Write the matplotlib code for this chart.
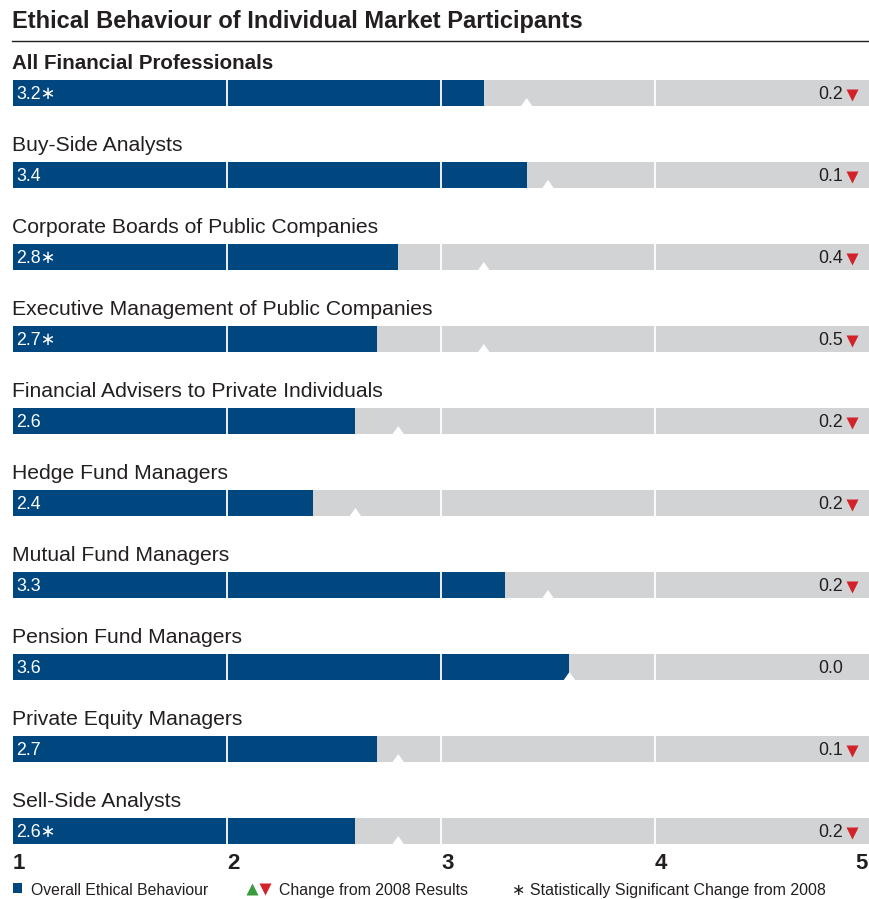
import matplotlib.pyplot as plt
from matplotlib.patches import Polygon

# dados do gráfico
groups = ['All Financial Professionals', 'Buy-Side Analysts',
          'Corporate Boards of Public Companies',
          'Executive Management of Public Companies',
          'Financial Advisers to Private Individuals', 'Hedge Fund Managers',
          'Mutual Fund Managers', 'Pension Fund Managers',
          'Private Equity Managers', 'Sell-Side Analysts']
scores = [3.2, 3.4, 2.8, 2.7, 2.6, 2.4, 3.3, 3.6, 2.7, 2.6]
changes = [-0.2, -0.1, -0.4, -0.5, -0.2, -0.2, -0.2, 0.0, -0.1, -0.2]
significant = [True, False, True, True, False, False, False, False, False, True]
ticks = [1, 2, 3, 4, 5]

BLUE = '#00467F'
GRAY = '#D1D3D4'
RED = '#D2232A'
GREEN = '#3A9B3A'
TXT = '#231F20'

W, H = 869, 899
PX = 214.0  # pixels por unidade da escala

fig = plt.figure(figsize=(W / 100, H / 100), dpi=100)
ax = fig.add_axes([0, 0, 1, 1])
ax.set_xlim(1 - 13 / PX, 5)
ax.set_ylim(H, 0)
ax.axis('off')

sans = ['Liberation Sans', 'DejaVu Sans']
narrow = ['Liberation Sans Narrow', 'Liberation Sans', 'DejaVu Sans']

# título
ax.text(1 - 1 / PX, 28, 'Ethical Behaviour of Individual Market Participants',
        fontsize=17, fontweight='bold', color=TXT, family=sans)
ax.plot([1 - 1 / PX, 5], [41, 41], color=TXT, lw=1.0)

row_top = 80
row_step = 82
bar_h = 26
for i, (name, val, ch, sig) in enumerate(zip(groups, scores, changes, significant)):
    top = row_top + i * row_step
    bot = top + bar_h
    ax.text(1 - 1 / PX, top - 11, name, fontsize=14.8 if i == 0 else 15.2,
            color=TXT, family=sans, fontweight='bold' if i == 0 else 'normal')
    ax.barh(top + bar_h / 2, 4, left=1, height=bar_h, color=GRAY, lw=0)
    ax.barh(top + bar_h / 2, val - 1, left=1, height=bar_h, color=BLUE, lw=0)
    for g in ticks[1:-1]:
        ax.plot([g, g], [top, bot], color='white', lw=1.3)
    # marca do resultado de 2008
    prev = val - ch
    hw = 6 / PX
    ax.add_patch(Polygon([[prev - hw, bot + 0.5], [prev + hw, bot + 0.5], [prev, bot - 8]],
                         closed=True, facecolor='white', edgecolor='none'))
    lab = f'{val:.1f}' + ('\u2217' if sig else '')
    ax.text(1 + 3 / PX, top + 19, lab, fontsize=12.8, color='white', family=sans)
    if ch < 0:
        ax.text(1 + 830 / PX, top + 19, f'{abs(ch):.1f}', fontsize=12.8, color=TXT,
                family=sans, ha='right')
        ax.plot(1 + 839 / PX, top + 15, marker='v', color=RED, ms=9, mec='none')
    elif ch > 0:
        ax.text(1 + 830 / PX, top + 19, f'{ch:.1f}', fontsize=12.8, color=TXT,
                family=sans, ha='right')
        ax.plot(1 + 839 / PX, top + 15, marker='^', color=GREEN, ms=9, mec='none')
    else:
        ax.text(1 + 830 / PX, top + 19, f'{ch:.1f}', fontsize=12.8, color=TXT,
                family=sans, ha='right')

# rótulos do eixo
for t in ticks:
    ax.text(t if t < 5 else t - 1 / PX, 869, str(t), fontsize=16, fontweight='bold',
            color=TXT, family=narrow, ha='left' if t < 5 else 'right')

# legenda
ly = 895
ax.add_patch(Polygon([[1, ly - 12], [1 + 9 / PX, ly - 12], [1 + 9 / PX, ly - 2], [1, ly - 2]],
                     closed=True, facecolor=BLUE, edgecolor='none'))
ax.text(1 + 18 / PX, ly, 'Overall Ethical Behaviour', fontsize=11.3, color=TXT, family=narrow)
ax.plot(1 + 239 / PX, ly - 6, marker='^', color=GREEN, ms=8.5, mec='none')
ax.plot(1 + 252 / PX, ly - 6, marker='v', color=RED, ms=8.5, mec='none')
ax.text(1 + 266 / PX, ly, 'Change from 2008 Results', fontsize=11.4, color=TXT, family=narrow)
ax.text(1 + 499 / PX, ly, '\u2217 Statistically Significant Change from 2008', fontsize=11.5,
        color=TXT, family=narrow)

plt.savefig('out.png', dpi=100)
